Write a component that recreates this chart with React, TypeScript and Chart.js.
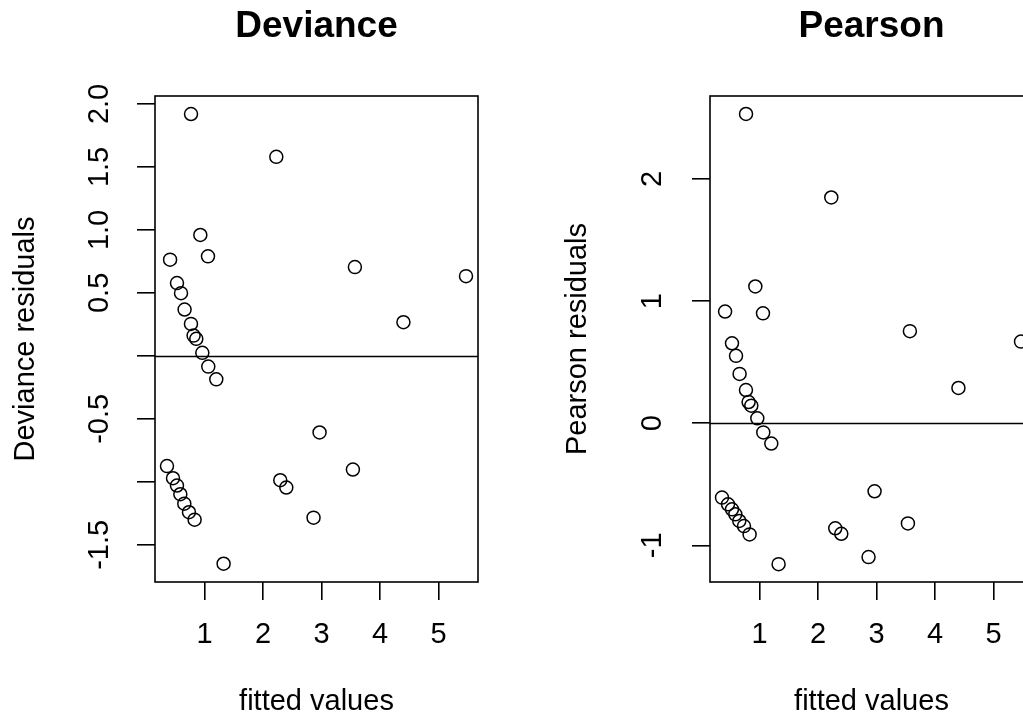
import React, { useEffect, useRef } from "react";
import { Chart, registerables } from "chart.js";

Chart.register(...registerables);

// Fitted values of the Poisson model and the two kinds of residuals for each observation.
const fittedValues = [
  0.768, 2.226, 0.927, 0.41, 1.058, 3.57, 5.47, 0.528, 0.597, 0.658, 4.4, 0.767, 0.812, 0.858, 0.961,
  1.063, 1.2, 2.966, 3.536, 2.294, 2.397, 2.863, 1.325, 0.357, 0.46, 0.528, 0.585, 0.653, 0.733, 0.829,
];
const devianceResiduals = [
  1.92, 1.58, 0.96, 0.764, 0.79, 0.705, 0.633, 0.578, 0.498, 0.368, 0.267, 0.254, 0.161, 0.135, 0.024,
  -0.085, -0.186, -0.608, -0.902, -0.987, -1.045, -1.284, -1.65, -0.875, -0.971, -1.029, -1.098, -1.173, -1.241, -1.3,
];
const pearsonResiduals = [
  2.533, 1.849, 1.12, 0.915, 0.9, 0.754, 0.669, 0.655, 0.552, 0.404, 0.289, 0.272, 0.174, 0.144, 0.04,
  -0.075, -0.166, -0.557, -0.82, -0.86, -0.905, -1.096, -1.154, -0.609, -0.664, -0.705, -0.746, -0.8, -0.842, -0.91,
];

// Axis limits and ticks.
const fittedRange = [0.152, 5.675];
const fittedTicks = [1, 2, 3, 4, 5];
const fittedTickLabels = ["1", "2", "3", "4", "5"];

const devianceRange = [-1.795, 2.063];
const devianceTicks = [-1.5, -1, -0.5, 0, 0.5, 1, 1.5, 2];
const devianceTickLabels = ["-1.5", "", "-0.5", "", "0.5", "1.0", "1.5", "2.0"];

const pearsonRange = [-1.3, 2.68];
const pearsonTicks = [-1, 0, 1, 2];
const pearsonTickLabels = ["-1", "0", "1", "2"];

const FONT = "'Liberation Sans', Arial, Helvetica, sans-serif";

// Box around the plot region plus the horizontal reference line at zero.
const framePlugin = {
  id: "frameAndZero",
  afterDatasetsDraw(chart: any) {
    const { ctx, chartArea: a, scales } = chart;
    ctx.save();
    ctx.strokeStyle = "#000";
    ctx.lineWidth = 1.6;
    ctx.strokeRect(a.left, a.top, a.right - a.left, a.bottom - a.top);
    const y0 = Math.round(scales.y.getPixelForValue(0)) + 0.5;
    ctx.beginPath();
    ctx.moveTo(a.left, y0);
    ctx.lineTo(a.right, y0);
    ctx.stroke();
    ctx.restore();
  },
};

type PanelProps = {
  title: string;
  yLabel: string;
  residuals: number[];
  yRange: number[];
  yTicks: number[];
  yTickLabels: string[];
  left: number;
  width: number;
  yAxisWidth: number;
  yTickPadding: number;
  yTitlePad: number;
};

function ResidualPanel(p: PanelProps) {
  const ref = useRef<HTMLCanvasElement | null>(null);

  useEffect(() => {
    if (!ref.current) return;
    const plotWidth = 323;
    const points = fittedValues.map((x, i) => ({ x, y: p.residuals[i] }));
    const chart = new Chart(ref.current, {
      type: "scatter",
      data: {
        datasets: [
          {
            data: points,
            pointStyle: "circle",
            pointRadius: 6.5,
            pointHoverRadius: 6.5,
            borderColor: "#000",
            borderWidth: 1.5,
            backgroundColor: "rgba(0,0,0,0)",
          },
        ],
      },
      options: {
        responsive: false,
        animation: false,
        events: [],
        layout: { padding: { left: 0, top: 0, bottom: 0, right: p.width - p.yAxisWidth - plotWidth } },
        plugins: {
          legend: { display: false },
          tooltip: { enabled: false },
          title: {
            display: true,
            text: p.title,
            fullSize: false,
            color: "#000",
            font: { family: FONT, size: 37, weight: "bold", lineHeight: 1 },
            padding: { top: 8.5, bottom: 50.5 },
          },
        },
        scales: {
          x: {
            type: "linear",
            position: "bottom",
            min: fittedRange[0],
            max: fittedRange[1],
            afterBuildTicks: (s: any) => {
              s.ticks = fittedTicks.map((v) => ({ value: v }));
            },
            afterFit: (s: any) => {
              s.height = 135;
            },
            grid: { display: true, drawOnChartArea: false, drawTicks: true, tickLength: 18, color: "#000", lineWidth: 1.6 },
            border: { display: false },
            ticks: {
              color: "#000",
              font: { family: FONT, size: 29 },
              padding: 18,
              autoSkip: false,
              minRotation: 0,
              maxRotation: 0,
              callback: (v: any) => fittedTickLabels[fittedTicks.indexOf(Number(v))] ?? "",
            },
            title: {
              display: true,
              text: "fitted values",
              color: "#000",
              font: { family: FONT, size: 29, lineHeight: 1 },
              padding: { top: 0, bottom: 0.8 },
            },
          },
          y: {
            type: "linear",
            position: "left",
            min: p.yRange[0],
            max: p.yRange[1],
            afterBuildTicks: (s: any) => {
              s.ticks = p.yTicks.map((v) => ({ value: v }));
            },
            afterFit: (s: any) => {
              s.width = p.yAxisWidth;
            },
            grid: { display: true, drawOnChartArea: false, drawTicks: true, tickLength: 18, color: "#000", lineWidth: 1.6 },
            border: { display: false },
            ticks: {
              color: "#000",
              font: { family: FONT, size: 29 },
              padding: p.yTickPadding,
              autoSkip: false,
              minRotation: 90,
              maxRotation: 90,
              crossAlign: "center",
              callback: (v: any) => p.yTickLabels[p.yTicks.indexOf(Number(v))] ?? "",
            },
            title: {
              display: true,
              text: p.yLabel,
              color: "#000",
              font: { family: FONT, size: 29, lineHeight: 1 },
              padding: { top: p.yTitlePad, bottom: 0 },
            },
          },
        },
      },
      plugins: [framePlugin],
    } as any);
    return () => chart.destroy();
  }, []);

  return (
    <canvas
      ref={ref}
      width={p.width}
      height={717}
      style={{ position: "absolute", left: p.left, top: 0, width: p.width, height: 717 }}
    />
  );
}

export default function App() {
  return (
    <div
      style={{
        position: "absolute",
        left: 0,
        top: 0,
        width: 1023,
        height: 717,
        overflow: "hidden",
        background: "#fff",
      }}
    >
      <ResidualPanel
        title="Deviance"
        yLabel="Deviance residuals"
        residuals={devianceResiduals}
        yRange={devianceRange}
        yTicks={devianceTicks}
        yTickLabels={devianceTickLabels}
        left={0}
        width={520}
        yAxisWidth={155}
        yTickPadding={12}
        yTitlePad={11.5}
      />
      <ResidualPanel
        title="Pearson"
        yLabel="Pearson residuals"
        residuals={pearsonResiduals}
        yRange={pearsonRange}
        yTicks={pearsonTicks}
        yTickLabels={pearsonTickLabels}
        left={530}
        width={520}
        yAxisWidth={180}
        yTickPadding={26}
        yTitlePad={33.5}
      />
    </div>
  );
}
